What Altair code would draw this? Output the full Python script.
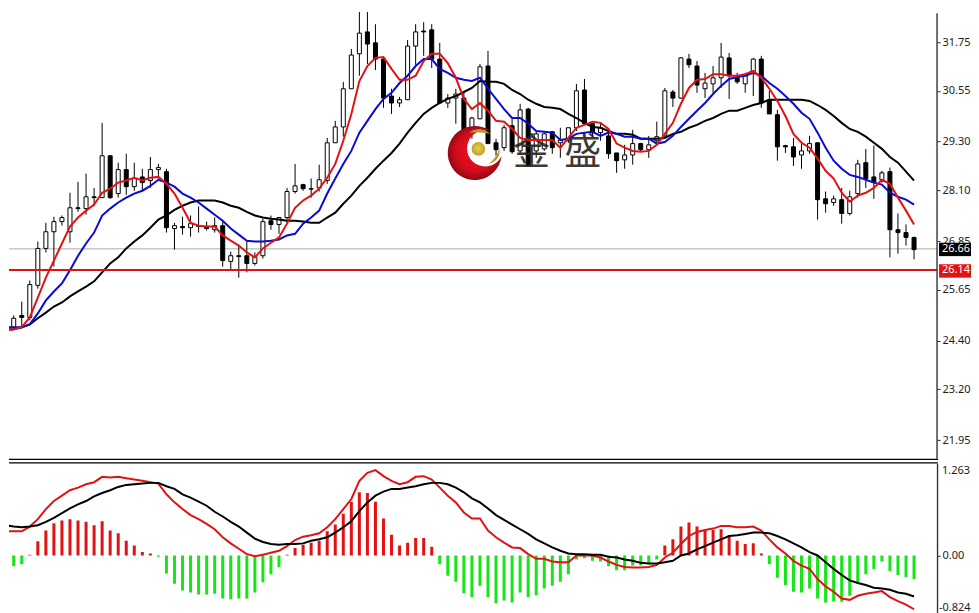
import altair as alt
import pandas as pd

# ---- candles (price) ----
opens = [24.53,24.73,25.02,24.97,25.76,26.67,27.08,27.33,27.08,27.67,27.65,27.94,27.92,28.95,28.02,28.61,28.19,28.43,28.34,28.61,
28.56,27.16,27.21,27.18,27.23,27.21,27.13,27.23,26.35,26.49,26.49,26.30,26.49,27.35,27.26,27.43,28.07,28.24,28.14,28.16,
28.34,29.27,29.66,30.60,31.46,32.00,31.73,31.33,30.42,30.25,30.33,31.65,32.02,32.05,31.33,30.25,30.37,30.37,29.64,29.86,
31.16,29.27,29.15,29.69,29.07,30.10,29.07,29.12,29.54,29.27,29.32,29.64,30.57,29.74,29.52,29.44,29.02,28.85,28.97,29.25,
29.10,29.32,29.44,30.52,30.37,31.33,31.16,30.60,30.72,30.87,31.36,30.87,30.72,30.99,31.33,30.33,29.96,29.20,29.17,28.97,
29.07,29.27,27.89,27.80,27.87,27.53,28.02,28.78,28.43,28.36,28.56,27.13,27.06,26.94]
highs = [24.90,25.02,25.36,25.88,26.84,27.30,27.45,27.48,28.04,28.31,28.51,28.16,29.76,28.95,28.78,29.00,28.78,28.63,28.92,28.75,
28.63,27.30,27.45,27.48,27.70,27.33,27.43,27.35,26.59,26.74,26.86,26.57,27.40,27.48,27.43,28.16,28.75,28.26,28.39,28.73,
29.39,29.81,30.77,31.58,32.49,32.49,32.19,31.38,30.60,30.40,31.80,32.19,32.24,32.19,31.73,30.47,30.60,30.50,29.91,31.21,
31.53,29.37,29.71,29.86,30.23,30.13,29.56,29.52,29.56,29.64,29.64,30.72,30.84,29.76,29.74,29.52,29.02,29.22,29.59,29.27,
29.44,29.79,30.62,30.57,31.38,31.46,31.28,30.99,31.16,31.73,31.48,30.99,30.99,31.36,31.41,30.55,30.08,29.22,29.39,29.25,
29.44,29.27,28.07,27.97,28.16,28.09,28.85,29.12,29.20,28.58,28.66,27.53,27.26,26.96]
lows = [24.36,24.65,24.70,24.90,25.68,26.57,26.22,27.23,26.81,27.57,27.50,27.72,27.92,27.89,27.92,27.99,28.09,28.07,28.16,28.39,
27.06,26.64,27.01,26.96,27.06,27.11,27.06,26.22,26.13,25.95,26.08,26.25,26.42,27.13,27.03,27.30,28.02,28.09,27.92,28.07,
28.26,29.27,29.42,30.60,30.92,31.21,31.06,30.13,29.98,30.15,30.33,31.19,31.41,31.11,30.25,30.13,29.74,29.44,29.37,29.86,
29.25,28.95,29.07,29.00,29.00,28.68,28.90,29.07,29.00,28.90,29.27,29.56,29.71,29.39,29.32,28.88,28.53,28.63,28.73,29.05,
28.90,29.25,29.39,30.15,30.35,31.11,30.50,30.37,30.50,30.62,30.35,30.72,30.50,30.42,30.13,29.98,28.83,29.02,28.70,28.63,
29.00,27.38,27.55,27.72,27.28,27.48,27.92,28.16,27.89,28.29,26.45,26.54,26.74,26.40]
closes = [24.65,24.95,24.97,25.78,26.67,27.08,27.33,27.43,27.67,27.65,27.94,27.92,28.95,27.92,28.61,28.19,28.39,28.29,28.61,28.66,
27.18,27.23,27.18,27.28,27.21,27.16,27.23,26.37,26.49,26.47,26.30,26.47,27.33,27.26,27.43,28.07,28.21,28.14,28.13,28.36,
29.27,29.66,30.60,31.43,31.97,31.70,31.33,30.37,30.25,30.33,31.65,32.00,32.00,31.33,30.25,30.37,30.47,29.56,29.88,31.14,
29.25,29.10,29.64,29.05,30.08,28.70,29.49,29.49,29.15,29.34,29.64,30.55,29.74,29.52,29.64,29.00,28.83,28.97,29.25,29.10,
29.22,29.42,30.55,30.37,31.36,31.19,30.69,30.74,30.87,31.38,30.92,30.77,30.92,31.33,30.25,29.98,29.17,29.17,28.92,29.07,
29.25,27.87,27.77,27.89,27.53,27.94,28.75,28.39,28.31,28.53,27.13,27.06,26.94,26.64]

# ---- moving averages (price) ----
ma_red = [24.65,24.68,24.73,24.97,25.46,25.95,26.37,26.79,27.21,27.43,27.60,27.75,28.04,28.14,28.29,28.34,28.41,28.34,28.41,28.43,
28.26,28.02,27.67,27.30,27.23,27.21,27.21,26.99,26.86,26.74,26.57,26.45,26.67,26.81,26.94,27.28,27.67,27.85,27.97,28.14,
28.41,28.75,29.32,29.98,30.79,31.16,31.36,31.38,31.09,30.82,30.82,30.92,31.28,31.46,31.46,31.23,30.87,30.35,30.10,30.25,
30.06,29.81,29.79,29.61,29.39,29.34,29.34,29.34,29.34,29.15,29.39,29.64,29.71,29.79,29.76,29.61,29.25,29.15,29.07,29.05,
29.07,29.22,29.49,29.76,30.23,30.62,30.82,30.84,30.96,30.96,30.92,30.92,30.96,31.04,30.87,30.60,30.30,29.93,29.49,29.27,
29.15,28.88,28.58,28.39,28.04,27.82,27.97,28.04,28.16,28.36,28.26,27.92,27.60,27.26]
ma_blue = [24.73,24.73,24.73,24.80,25.07,25.39,25.61,25.81,26.13,26.49,26.79,27.06,27.48,27.65,27.80,27.92,28.02,28.09,28.21,28.36,
28.29,28.19,28.02,27.92,27.80,27.65,27.50,27.35,27.16,27.01,26.86,26.84,26.84,26.86,26.89,26.99,27.03,27.28,27.43,27.60,
28.02,28.39,28.75,29.07,29.52,29.81,30.10,30.35,30.50,30.74,30.92,31.16,31.33,31.33,31.09,30.99,30.87,30.82,30.79,30.87,
30.60,30.35,30.10,29.88,29.88,29.74,29.56,29.54,29.52,29.34,29.37,29.49,29.52,29.54,29.44,29.52,29.49,29.42,29.42,29.37,
29.37,29.25,29.29,29.44,29.66,29.86,30.06,30.25,30.47,30.67,30.84,30.89,30.92,30.99,30.92,30.74,30.60,30.42,30.23,30.01,
29.86,29.52,29.15,28.83,28.63,28.48,28.43,28.36,28.29,28.24,28.04,27.94,27.87,27.75]
ma_black = [24.68,24.68,24.73,24.80,24.95,25.09,25.24,25.34,25.49,25.61,25.73,25.86,26.08,26.30,26.45,26.67,26.84,26.99,27.18,27.38,
27.48,27.62,27.72,27.80,27.85,27.85,27.85,27.80,27.72,27.67,27.57,27.48,27.43,27.40,27.38,27.35,27.35,27.33,27.30,27.30,
27.43,27.55,27.77,27.97,28.21,28.41,28.63,28.83,29.02,29.25,29.52,29.76,29.98,30.13,30.25,30.35,30.42,30.52,30.62,30.79,
30.77,30.77,30.72,30.57,30.47,30.33,30.23,30.15,30.13,30.10,29.98,29.88,29.76,29.66,29.64,29.56,29.49,29.49,29.47,29.37,
29.37,29.37,29.39,29.49,29.54,29.64,29.71,29.81,29.88,29.98,30.06,30.06,30.13,30.20,30.25,30.33,30.33,30.33,30.33,30.33,
30.30,30.20,30.08,29.93,29.76,29.61,29.54,29.42,29.27,29.12,28.92,28.78,28.56,28.34]

# ---- MACD panel ----
macd_hist = [-0.21,-0.16,-0.13,0.01,0.21,0.37,0.48,0.52,0.54,0.52,0.50,0.45,0.51,0.37,0.33,0.22,0.15,0.05,0.03,-0.02,
-0.27,-0.42,-0.52,-0.55,-0.58,-0.58,-0.57,-0.64,-0.65,-0.64,-0.64,-0.55,-0.40,-0.28,-0.17,0.01,0.11,0.16,0.19,0.22,
0.36,0.46,0.62,0.80,0.94,0.93,0.80,0.55,0.31,0.15,0.19,0.26,0.26,0.13,-0.13,-0.30,-0.39,-0.56,-0.62,-0.45,
-0.62,-0.71,-0.67,-0.70,-0.55,-0.62,-0.59,-0.49,-0.45,-0.39,-0.28,-0.06,-0.04,-0.08,-0.09,-0.16,-0.22,-0.22,-0.15,-0.15,
-0.13,-0.06,0.15,0.24,0.43,0.49,0.43,0.38,0.38,0.39,0.30,0.22,0.17,0.18,0.03,-0.13,-0.33,-0.44,-0.54,-0.55,
-0.49,-0.64,-0.70,-0.68,-0.69,-0.60,-0.40,-0.28,-0.20,-0.09,-0.23,-0.29,-0.32,-0.35]
macd_fast = [0.36,0.36,0.36,0.43,0.54,0.69,0.81,0.89,0.97,1.01,1.06,1.09,1.17,1.16,1.17,1.15,1.13,1.11,1.09,1.07,
0.91,0.79,0.69,0.60,0.54,0.47,0.39,0.27,0.18,0.10,0.02,-0.01,0.01,0.04,0.07,0.14,0.23,0.28,0.30,0.33,
0.42,0.54,0.69,0.84,1.11,1.23,1.27,1.18,1.11,1.06,1.09,1.17,1.18,1.13,1.01,0.89,0.79,0.64,0.55,0.55,
0.37,0.27,0.19,0.12,0.11,0.02,-0.05,-0.05,-0.09,-0.10,-0.10,0.00,0.00,0.00,-0.03,-0.09,-0.14,-0.17,-0.18,-0.18,
-0.17,-0.14,-0.03,0.04,0.17,0.29,0.35,0.38,0.40,0.44,0.44,0.42,0.42,0.43,0.37,0.24,0.12,0.03,-0.08,-0.15,
-0.20,-0.35,-0.46,-0.54,-0.64,-0.66,-0.60,-0.57,-0.55,-0.53,-0.62,-0.68,-0.73,-0.80]
macd_signal = [0.45,0.43,0.42,0.43,0.45,0.50,0.56,0.63,0.70,0.76,0.81,0.88,0.93,0.97,1.02,1.05,1.06,1.07,1.08,1.08,
1.03,0.99,0.91,0.86,0.80,0.74,0.65,0.58,0.50,0.43,0.34,0.25,0.20,0.17,0.16,0.17,0.17,0.18,0.22,0.24,
0.27,0.34,0.42,0.51,0.66,0.79,0.89,0.95,0.99,0.99,1.01,1.03,1.06,1.08,1.08,1.06,1.01,0.94,0.85,0.79,
0.70,0.60,0.53,0.46,0.39,0.32,0.24,0.18,0.12,0.07,0.03,0.02,0.02,0.01,0.01,-0.02,-0.03,-0.06,-0.08,-0.11,
-0.12,-0.12,-0.10,-0.08,0.00,0.03,0.09,0.14,0.19,0.24,0.29,0.30,0.32,0.34,0.34,0.33,0.29,0.24,0.18,0.12,
0.05,0.00,-0.10,-0.20,-0.29,-0.37,-0.41,-0.44,-0.48,-0.49,-0.51,-0.55,-0.57,-0.61]

# ---- axis / tag text ----
price_ticks = [31.75,30.55,29.30,28.10,26.85,25.65,24.40,23.20,21.95]
last_price = 26.66
level_price = 26.14

FONT = "Noto Sans"
FS = 11
TXT = "#1c1c1c"
RED = "#e31212"
BLUE = "#0a0ad8"
GREEN = "#16e616"

idx = list(range(len(opens)))
candles = pd.DataFrame({"i": idx, "o": opens, "h": highs, "l": lows, "c": closes})
candles["top"] = candles[["o", "c"]].max(axis=1)
candles["bot"] = candles[["o", "c"]].min(axis=1)
candles["kind"] = ["up" if c >= o else "down" for o, c in zip(opens, closes)]
mas = pd.DataFrame({"i": idx, "red": ma_red, "blue": ma_blue, "black": ma_black})
macd = pd.DataFrame({"i": idx, "hist": macd_hist, "fast": macd_fast, "sig": macd_signal})
macd["zero"] = 0.0
macd["kind"] = ["pos" if v >= 0 else "neg" for v in macd_hist]

X = alt.X("i:Q", axis=None, scale=alt.Scale(domain=[0.414, 115.86], nice=False, zero=False, padding=0))
P = alt.Scale(domain=[21.49, 32.58], nice=False, zero=False)
M = alt.Scale(domain=[-0.866, 1.378], nice=False, zero=False)
axis_main = alt.Axis(orient="right", values=price_ticks, format=".2f", grid=False, domain=False, title=None,
                     tickSize=3, tickColor="#222", labelPadding=2, labelFont=FONT, labelFontSize=FS, labelColor=TXT)
axis_low = alt.Axis(orient="right", values=[0], format=".2f", grid=False, domain=False, title=None,
                    tickSize=3, tickColor="#222", labelPadding=2, labelFont=FONT, labelFontSize=FS, labelColor=TXT)

base = alt.Chart(candles)
wicks = base.mark_rule(color="black", strokeWidth=1, clip=True).encode(
    x=X, y=alt.Y("l:Q", scale=P, axis=axis_main), y2="h:Q")
bodies = base.mark_bar(size=4, stroke="black", strokeWidth=1, clip=True).encode(
    x=X, y=alt.Y("top:Q", scale=P), y2="bot:Q",
    fill=alt.Fill("kind:N", scale=alt.Scale(domain=["up", "down"], range=["white", "black"]), legend=None))

def ma_line(field, color):
    return alt.Chart(mas).mark_line(color=color, strokeWidth=2, clip=True).encode(
        x=X, y=alt.Y(f"{field}:Q", scale=P))

def spot(i, price):
    return pd.DataFrame({"i": [i], "p": [price]})

def at():
    return {"x": X, "y": alt.Y("p:Q", scale=P)}

def symbol(i, price, path, size, fill):
    return alt.Chart(spot(i, price)).mark_point(shape=path, size=size, filled=True, fill=fill,
                                                opacity=1, strokeWidth=0).encode(**at())

radial_red = {"gradient": "radial", "x1": 0.55, "y1": 0.45, "r1": 0.1, "x2": 0.5, "y2": 0.5, "r2": 0.55,
              "stops": [{"offset": 0, "color": "#f01020"}, {"offset": 0.6, "color": "#d00c1c"},
                        {"offset": 1, "color": "#7c0812"}]}
radial_gold = {"gradient": "radial", "x1": 0.5, "y1": 0.45, "r1": 0, "x2": 0.5, "y2": 0.5, "r2": 0.6,
               "stops": [{"offset": 0, "color": "#ecd048"}, {"offset": 1, "color": "#b89a28"}]}

logo_red = symbol(58.33, 29.02, "M0.59,-0.81 A1,1 0 1,0 1,0.11 A0.67,0.67 0 1,1 0.59,-0.81 Z", 2916, radial_red)
logo_ball = alt.Chart(spot(58.8, 29.12)).mark_circle(size=185, fill=radial_gold, opacity=1).encode(**at())
logo_top = symbol(58.95, 29.52, "M-0.9,0 Q0,-0.65 0.9,0.1 Q0,-0.1 -0.9,0 Z", 576, "#b89a30")
logo_right = symbol(60.8, 28.95, "M-0.5,0.67 Q0.55,0.45 0.42,-0.67 Q0.2,0.2 -0.5,0.67 Z", 576, "#b89a30")

def glyph(i, ch):
    d = pd.DataFrame({"i": [i], "p": [29.0], "t": [ch]})
    return alt.Chart(d).mark_text(font="Noto Sans CJK SC", fontSize=37, color="#2a2420", baseline="middle",
                                  align="center", opacity=0.9).encode(x=X, y=alt.Y("p:Q", scale=P), text="t:N")

def hline(price, color, width):
    d = pd.DataFrame({"p": [price]})
    return alt.Chart(d).mark_rule(color=color, strokeWidth=width).encode(
        x=alt.value(0), x2=alt.value(929), y=alt.Y("p:Q", scale=P))

def tag(price, top, bottom, color, label):
    d = pd.DataFrame({"p": [price], "a": [top], "b": [bottom], "t": [label]})
    box = alt.Chart(d).mark_rect(color=color).encode(
        x=alt.value(931), x2=alt.value(963), y=alt.Y("a:Q", scale=P), y2="b:Q")
    text = alt.Chart(d).mark_text(font=FONT, fontSize=FS, color="white", align="left", baseline="middle").encode(
        x=alt.value(934), y=alt.Y("p:Q", scale=P), text="t:N")
    return box + text

axis_line = alt.Chart(pd.DataFrame({"k": [0]})).mark_rule(color="#333", strokeWidth=1.4).encode(
    x=alt.value(929), y=alt.value(5), y2=alt.value(451))
sep_top = alt.Chart(pd.DataFrame({"k": [0]})).mark_rule(color="black", strokeWidth=1.3).encode(
    x=alt.value(0), x2=alt.value(930), y=alt.value(451.5))

main = alt.layer(
    hline(last_price, "#c8c8c8", 1.4), wicks, bodies,
    glyph(65.4, "金"), glyph(71.8, "盛"),
    logo_red, logo_ball, logo_top, logo_right,
    ma_line("black", "#000000"), ma_line("blue", BLUE), ma_line("red", RED),
    hline(level_price, RED, 2),
    axis_line, sep_top,
    tag(last_price, 26.81, 26.48, "black", "26.66"),
    tag(level_price, 26.28, 25.95, RED, "26.14"),
).properties(width=929, height=451)

low_base = alt.Chart(macd)
hist = low_base.mark_bar(size=3, clip=True).encode(
    x=X, y=alt.Y("hist:Q", scale=M, axis=axis_low), y2="zero:Q",
    color=alt.Color("kind:N", scale=alt.Scale(domain=["pos", "neg"], range=[RED, GREEN]), legend=None))
fast = low_base.mark_line(color=RED, strokeWidth=2, clip=True).encode(x=X, y=alt.Y("fast:Q", scale=M))
sig = low_base.mark_line(color="black", strokeWidth=2, clip=True).encode(x=X, y=alt.Y("sig:Q", scale=M))

def low_label(v, label, shift, xpos, al):
    d = pd.DataFrame({"v": [v], "t": [label]})
    return alt.Chart(d).mark_text(font=FONT, fontSize=FS, color=TXT, align=al, baseline="middle", dy=shift).encode(
        x=alt.value(xpos), y=alt.Y("v:Q", scale=M), text="t:N")

low_axis_line = alt.Chart(pd.DataFrame({"k": [0]})).mark_rule(color="#333", strokeWidth=1.4).encode(
    x=alt.value(929.5), y=alt.value(1), y2=alt.value(151))
sep_low = alt.Chart(pd.DataFrame({"k": [0]})).mark_rule(color="black", strokeWidth=1.3).encode(
    x=alt.value(0), x2=alt.value(930), y=alt.value(0))

lower = alt.layer(hist, fast, sig, low_axis_line, sep_low,
                  low_label(1.263, "1.263", 0, 934, "left"), low_label(-0.824, "-0.824", -3, 962.5, "right")
                  ).properties(width=929, height=151)

chart = alt.vconcat(main, lower, spacing=1).resolve_scale(x="independent", y="independent", color="independent", fill="independent"
    ).configure_view(stroke=None).properties(padding=0, background="white")

chart.save("out.html", embed_options={"renderer": "svg", "actions": False})
